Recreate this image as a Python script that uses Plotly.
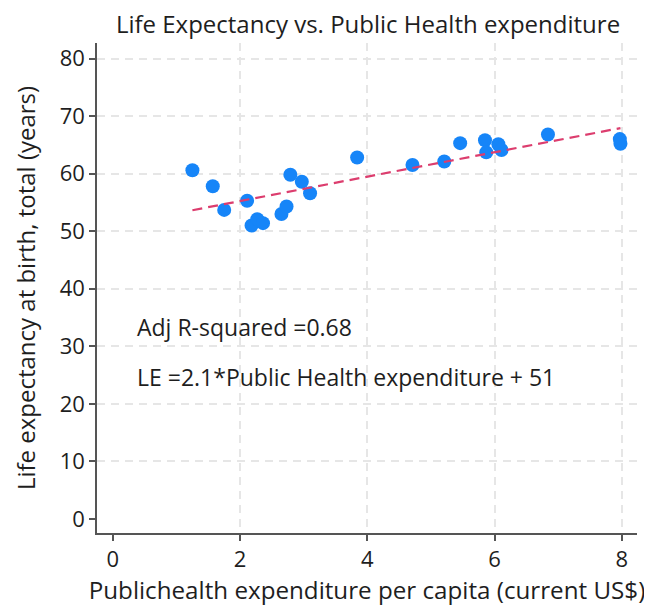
import plotly.graph_objects as go

# Data
health_exp = [1.25, 1.57, 1.75, 2.11, 2.18, 2.27, 2.36, 2.65, 2.73, 2.79, 2.97, 3.10,
              3.84, 4.71, 5.21, 5.46, 5.85, 5.87, 6.06, 6.11, 6.84, 7.97, 7.98]
life_exp = [60.6, 57.8, 53.7, 55.3, 51.0, 52.1, 51.4, 53.0, 54.3, 59.8, 58.6, 56.6,
            62.8, 61.5, 62.1, 65.3, 65.8, 63.7, 65.1, 64.1, 66.8, 66.0, 65.2]
x_ticks = [0, 2, 4, 6, 8]
y_ticks = [0, 10, 20, 30, 40, 50, 60, 70, 80]
x_grid = [2, 4, 6, 8]
y_grid = [10, 20, 30, 40, 50, 60, 70, 80]
slope, intercept = 2.12, 51.0

title = "Life Expectancy vs. Public Health expenditure"
x_title = "Publichealth expenditure per capita (current US$)"
y_title = "Life expectancy at birth, total (years)"
note1 = "Adj R-squared =0.68"
note2 = "LE =2.1*Public Health expenditure + 51"

FONT = "Open Sans"
TXT = "#1e1e1e"
fit_x = [min(health_exp), max(health_exp)]
fit_y = [slope * v + intercept for v in fit_x]

fig = go.Figure()
fig.add_trace(go.Scatter(
    x=health_exp, y=life_exp, mode="markers",
    marker=dict(color="#1685F8", size=14, line=dict(width=0)),
    showlegend=False, hoverinfo="x+y"))
fig.add_trace(go.Scatter(
    x=fit_x, y=fit_y, mode="lines",
    line=dict(color="#DC3D6E", width=2.2, dash="10px,6px"),
    showlegend=False))

fig.add_annotation(x=0.34, y=33.3, xref="x", yref="y", text=note1, showarrow=False,
                   xanchor="left", yanchor="middle",
                   font=dict(family=FONT, size=23, color=TXT))
fig.add_annotation(x=0.34, y=24.6, xref="x", yref="y", text=note2, showarrow=False,
                   xanchor="left", yanchor="middle",
                   font=dict(family=FONT, size=23, color=TXT))

axis_common = dict(
    showline=True, linecolor="#555555", linewidth=1.5,
    ticks="outside", ticklen=6, tickwidth=1.5, tickcolor="#555555",
    showgrid=False, zeroline=False, automargin=False,
    tickfont=dict(family=FONT, size=22, color=TXT),
)

# the page body has an 8px default margin, so the figure is sized 8px smaller
fig.update_layout(
    width=644, height=601,
    margin=dict(l=89, r=15, t=35, b=76),
    paper_bgcolor="white", plot_bgcolor="white",
    title=dict(text=title, x=0.559, xanchor="center", y=0.972, yanchor="middle",
               font=dict(family=FONT, size=24, color=TXT)),
    xaxis=dict(range=[-0.25, 8.24], tickvals=x_ticks,
               title=dict(text=x_title, standoff=2,
                          font=dict(family=FONT, size=24.2, color=TXT)),
               minor=dict(tickvals=x_grid, showgrid=True, gridcolor="#E6E6E6",
                          gridwidth=1.5, griddash="8px,6px", ticklen=0),
               **axis_common),
    yaxis=dict(range=[-2.43, 82.7], tickvals=y_ticks,
               title=dict(text=y_title, standoff=17,
                          font=dict(family=FONT, size=24, color=TXT)),
               minor=dict(tickvals=y_grid, showgrid=True, gridcolor="#E6E6E6",
                          gridwidth=1.5, griddash="8px,6px", ticklen=0),
               **axis_common),
)

fig.write_html("out.html")
